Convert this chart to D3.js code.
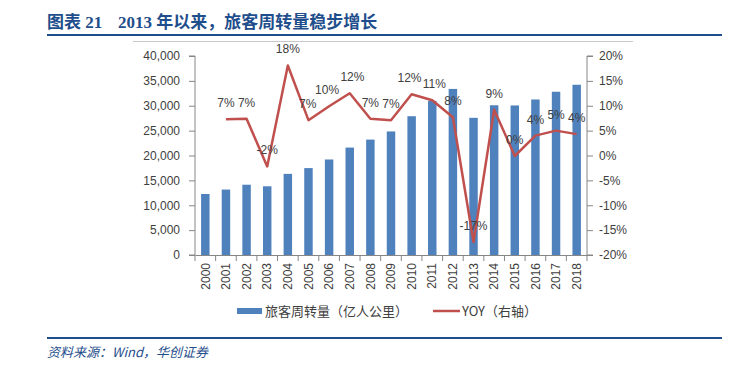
<!DOCTYPE html>
<html><head><meta charset="utf-8">
<script src="https://cdn.jsdelivr.net/npm/d3@7"></script>
<style>body{margin:0;background:#fff}svg{display:block}</style>
</head><body>
<svg id="c" width="749" height="373"></svg>
<script>
const years = ["2000","2001","2002","2003","2004","2005","2006","2007","2008","2009","2010","2011","2012","2013","2014","2015","2016","2017","2018"];
const turnover = [12261,13155,14126,13811,16309,17467,19197,21593,23197,24835,27894,30984,33383,27572,30097,30059,31259,32813,34218];
const yoy = [null,7.3,7.4,-2.2,18.1,7.1,9.9,12.5,7.4,7.1,12.3,11.1,7.7,-17.4,9.2,-0.1,4.0,5.0,4.3];
const yoyLabels = [null,"7%","7%","-2%","18%","7%","10%","12%","7%","7%","12%","11%","8%","-17%","9%","0%","4%","5%","4%"];
const leftTicks = [0,5000,10000,15000,20000,25000,30000,35000,40000];
const rightTicks = [-20,-15,-10,-5,0,5,10,15,20];
const titleText = ["图表 21", "2013 年以来，旅客周转量稳步增长"];
const legendLabels = ["旅客周转量（亿人公里）", "YOY（右轴）"];
const sourceText = "资料来源：Wind，华创证券";

const svg = d3.select("#c");
const blue = "#1F4E8C", barC = "#4F81BD", lineC = "#C0504D", txt = "#404040", axC = "#868686";
const font = "'Liberation Sans', Arial, 'Noto Sans CJK SC', sans-serif";
const fs = "12px";

// title
svg.append("text").attr("x",47).attr("y",28).attr("fill",blue)
  .style("font-family","'Liberation Serif','Noto Sans CJK SC',serif").style("font-weight","bold").style("font-size","17px")
  .text(titleText[0]);
svg.append("text").attr("x",118).attr("y",28).attr("fill",blue)
  .style("font-family","'Liberation Serif','Noto Sans CJK SC',serif").style("font-weight","bold").style("font-size","17px")
  .text(titleText[1]);
svg.append("line").attr("x1",47).attr("x2",722).attr("y1",35).attr("y2",35).attr("stroke",blue).attr("stroke-width",2);
svg.append("line").attr("x1",133).attr("x2",633).attr("y1",41.5).attr("y2",41.5).attr("stroke","#c8c8c8").attr("stroke-width",1);

const L = 195, R = 587, T = 56, B = 255;
const x = d3.scaleBand().domain(years).range([L,R]).paddingInner(0.59).paddingOuter(0.295);
const xb = d3.scaleBand().domain(years).range([L,R]);
const yL = d3.scaleLinear().domain([0,40000]).range([B,T]);
const yR = d3.scaleLinear().domain([-20,20]).range([B,T]);

// bars
svg.append("g").selectAll("rect").data(turnover).join("rect")
  .attr("x",(d,i)=>x(years[i])).attr("width",x.bandwidth())
  .attr("y",d=>yL(d)).attr("height",d=>B-yL(d)).attr("fill",barC);

// left axis
const gl = svg.append("g").attr("transform",`translate(${L},0)`)
  .call(d3.axisLeft(yL).tickValues(leftTicks).tickSize(6).tickPadding(9).tickFormat(d3.format(",")));
// right axis
const gr = svg.append("g").attr("transform",`translate(${R},0)`)
  .call(d3.axisRight(yR).tickValues(rightTicks).tickSize(6).tickPadding(6).tickFormat(d=>d+"%"));
// x axis
const gx = svg.append("g").attr("transform",`translate(0,${B})`)
  .call(d3.axisBottom(xb).tickSize(0).tickPadding(0));
gx.selectAll(".tick text").attr("transform","rotate(-90)").attr("x",-8).attr("y",0).attr("dy","0.35em").style("text-anchor","end");
// category boundary ticks
svg.append("g").selectAll("line").data(years.concat(["end"])).join("line")
  .attr("x1",(d,i)=>i<years.length?xb(d):R).attr("x2",(d,i)=>i<years.length?xb(d):R)
  .attr("y1",B).attr("y2",B+6).attr("stroke",axC);

[gl,gr,gx].forEach(g=>{
  g.select(".domain").attr("stroke",axC);
  g.selectAll(".tick line").attr("stroke",axC);
  g.selectAll(".tick text").attr("fill",txt).style("font-family",font).style("font-size",fs);
});
gl.select(".domain").attr("d",`M-6,${T}H0V${B}H-6`);
gr.select(".domain").attr("d",`M6,${T}H0V${B}H6`);

// line
const pts = yoy.map((v,i)=>({v,i})).filter(d=>d.v!==null);
const cx = d=>xb(years[d.i])+xb.bandwidth()/2;
const line = d3.line().x(cx).y(d=>yR(d.v));
svg.append("path").datum(pts).attr("d",line).attr("fill","none").attr("stroke",lineC).attr("stroke-width",2.5).attr("stroke-linejoin","round");
const labs = svg.append("g").selectAll("text").data(pts).join("text")
  .attr("x",cx).attr("y",d=>yR(d.v)-12)
  .attr("text-anchor","middle").attr("fill",txt).style("font-family",font).style("font-size",fs)
  .text(d=>yoyLabels[d.i]);
// nudge overlapping neighbouring labels apart horizontally
const nodes = labs.nodes();
for (let k=1;k<nodes.length;k++){
  const a = nodes[k-1].getBBox(), b = nodes[k].getBBox();
  const vOver = a.y < b.y+b.height && b.y < a.y+a.height;
  const hOver = a.x+a.width+1 - b.x;
  if (vOver && hOver>0){
    nodes[k-1].setAttribute("x", +nodes[k-1].getAttribute("x") - hOver/2);
    nodes[k].setAttribute("x", +nodes[k].getAttribute("x") + hOver/2);
  }
}

// legend
svg.append("rect").attr("x",237).attr("y",308).attr("width",25).attr("height",6).attr("fill",barC);
svg.append("text").attr("x",265).attr("y",316).attr("fill",txt).style("font-family","'Noto Sans CJK SC',sans-serif").style("font-size","13px").text(legendLabels[0]);
svg.append("line").attr("x1",433).attr("x2",460).attr("y1",311).attr("y2",311).attr("stroke",lineC).attr("stroke-width",2.5);
svg.append("text").attr("x",462).attr("y",316).attr("fill",txt).style("font-family","'Noto Sans CJK SC',sans-serif").style("font-size","13px").text(legendLabels[1]);

// source
svg.append("line").attr("x1",47).attr("x2",722).attr("y1",338).attr("y2",338).attr("stroke",blue).attr("stroke-width",2);
svg.append("text").attr("x",47).attr("y",357).attr("fill",blue)
  .style("font-family","'Noto Sans CJK SC',serif").style("font-style","italic").style("font-size","13px").text(sourceText);
</script>
</body></html>
